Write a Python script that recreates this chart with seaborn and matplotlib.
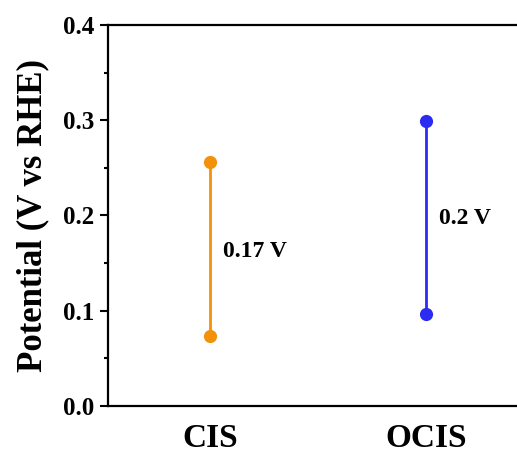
import numpy as np
import pandas as pd
import matplotlib
matplotlib.use("Agg")
import matplotlib.pyplot as plt
import matplotlib.transforms as mtransforms
from matplotlib.ticker import MultipleLocator
import seaborn as sns

# ---- data ----
samples = ["CIS", "OCIS"]
low_vals = [0.073, 0.097]
high_vals = [0.256, 0.299]
gap_labels = ["0.17 V", "0.2 V"]
label_y = [0.162, 0.197]
colors = ["#F39208", "#2B2BF2"]

sns.set_theme(style="ticks")
plt.rcParams["font.family"] = ["Liberation Serif", "DejaVu Serif"]
plt.rcParams["font.weight"] = "bold"
for k in ["text.color", "axes.labelcolor", "xtick.color", "ytick.color", "axes.edgecolor"]:
    plt.rcParams[k] = "black"

rows = []
for i, s in enumerate(samples):
    rows.append({"sample": s, "pos": i, "potential": low_vals[i]})
    rows.append({"sample": s, "pos": i, "potential": high_vals[i]})
df = pd.DataFrame(rows)

fig = plt.figure(figsize=(5.17, 4.53), dpi=100)
ax = fig.add_axes([108/517, 47/453, 420/517, 381/453])

sns.lineplot(data=df, x="pos", y="potential", hue="sample", units="sample",
             estimator=None, sort=False, palette=dict(zip(samples, colors)),
             marker="o", markersize=9.5, markeredgewidth=0, linewidth=2.0,
             legend=False, ax=ax)

for i, s in enumerate(samples):
    ax.text(i + 0.06, label_y[i], gap_labels[i], fontsize=17, fontweight="bold",
            ha="left", va="center", color="black")

ax.set_xlim(-0.47, 1.47)
ax.set_ylim(0, 0.4)
ax.yaxis.set_major_locator(MultipleLocator(0.1))
ax.yaxis.set_minor_locator(MultipleLocator(0.05))
ax.set_yticklabels([f"{v:.1f}" for v in ax.get_yticks()])
ax.set_xticks(range(len(samples)))
ax.set_xticklabels(samples, fontsize=24, fontweight="bold")
offset = mtransforms.ScaledTranslation(7/100, 0, fig.dpi_scale_trans)
for lab in ax.get_xticklabels():
    lab.set_transform(lab.get_transform() + offset)
ax.tick_params(axis="x", length=0, pad=12, colors="black")
ax.tick_params(axis="y", which="major", length=6, width=1.5, direction="out",
               labelsize=18, pad=4, colors="black")
ax.tick_params(axis="y", which="minor", length=3, width=1.5, direction="out",
               colors="black")
for lab in ax.get_yticklabels():
    lab.set_fontweight("bold")
ax.set_xlabel("")
ax.set_ylabel("Potential (V vs RHE)", fontsize=25, fontweight="bold", labelpad=10,
              color="black")
for sp in ax.spines.values():
    sp.set_linewidth(1.6)
    sp.set_color("black")

fig.savefig("out.png", dpi=100)
